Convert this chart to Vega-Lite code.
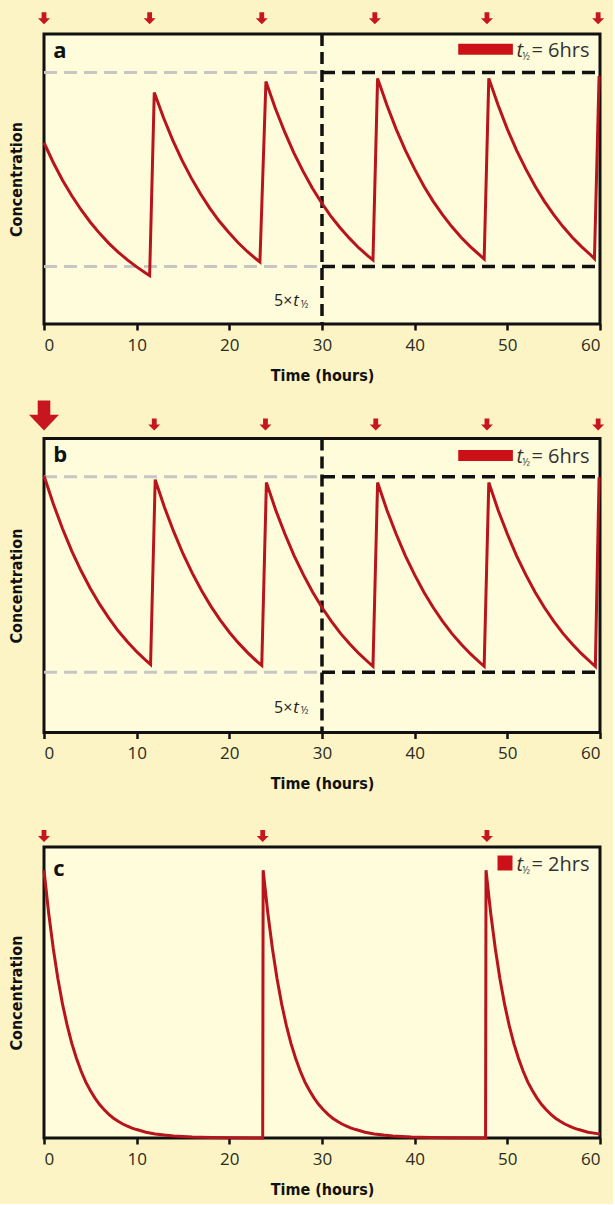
{
  "$schema": "https://vega.github.io/schema/vega-lite/v6.json",
  "background": "#fcf4c4",
  "padding": {"top": 10, "left": 6, "right": 5, "bottom": 5},
  "datasets": {
    "curves": [
      {"panel":"a","t":0,"c":62.5},{"panel":"a","t":1,"c":55.7},{"panel":"a","t":2,"c":49.6},{"panel":"a","t":3,"c":44.2},{"panel":"a","t":4,"c":39.4},{"panel":"a","t":5,"c":35.1},{"panel":"a","t":6,"c":31.25},{"panel":"a","t":7,"c":27.8},{"panel":"a","t":8,"c":24.8},{"panel":"a","t":9,"c":22.1},{"panel":"a","t":10,"c":19.7},{"panel":"a","t":11,"c":17.5},{"panel":"a","t":11.4,"c":16.7},
      {"panel":"a","t":11.9,"c":79.8},{"panel":"a","t":12.9,"c":71.1},{"panel":"a","t":13.9,"c":63.3},{"panel":"a","t":14.9,"c":56.4},{"panel":"a","t":15.9,"c":50.3},{"panel":"a","t":16.9,"c":44.8},{"panel":"a","t":17.9,"c":39.9},{"panel":"a","t":18.9,"c":35.5},{"panel":"a","t":19.9,"c":31.7},{"panel":"a","t":20.9,"c":28.2},{"panel":"a","t":21.9,"c":25.1},{"panel":"a","t":22.9,"c":22.4},{"panel":"a","t":23.3,"c":21.4},
      {"panel":"a","t":23.95,"c":83.6},{"panel":"a","t":24.95,"c":74.5},{"panel":"a","t":25.95,"c":66.4},{"panel":"a","t":26.95,"c":59.1},{"panel":"a","t":27.95,"c":52.7},{"panel":"a","t":28.95,"c":46.9},{"panel":"a","t":29.95,"c":41.8},{"panel":"a","t":30.95,"c":37.2},{"panel":"a","t":31.95,"c":33.2},{"panel":"a","t":32.95,"c":29.6},{"panel":"a","t":33.95,"c":26.3},{"panel":"a","t":34.95,"c":23.5},{"panel":"a","t":35.5,"c":22.1},
      {"panel":"a","t":36,"c":84.7},{"panel":"a","t":37,"c":75.5},{"panel":"a","t":38,"c":67.2},{"panel":"a","t":39,"c":59.9},{"panel":"a","t":40,"c":53.4},{"panel":"a","t":41,"c":47.5},{"panel":"a","t":42,"c":42.3},{"panel":"a","t":43,"c":37.7},{"panel":"a","t":44,"c":33.6},{"panel":"a","t":45,"c":29.9},{"panel":"a","t":46,"c":26.7},{"panel":"a","t":47,"c":23.8},{"panel":"a","t":47.5,"c":22.4},
      {"panel":"a","t":48,"c":84.7},{"panel":"a","t":49,"c":75.5},{"panel":"a","t":50,"c":67.2},{"panel":"a","t":51,"c":59.9},{"panel":"a","t":52,"c":53.4},{"panel":"a","t":53,"c":47.5},{"panel":"a","t":54,"c":42.3},{"panel":"a","t":55,"c":37.7},{"panel":"a","t":56,"c":33.6},{"panel":"a","t":57,"c":29.9},{"panel":"a","t":58,"c":26.7},{"panel":"a","t":59,"c":23.8},{"panel":"a","t":59.4,"c":22.5},
      {"panel":"a","t":59.9,"c":85.5},
      {"panel":"b","t":0,"c":87.3},{"panel":"b","t":1,"c":77.8},{"panel":"b","t":2,"c":69.3},{"panel":"b","t":3,"c":61.7},{"panel":"b","t":4,"c":55.0},{"panel":"b","t":5,"c":49.0},{"panel":"b","t":6,"c":43.65},{"panel":"b","t":7,"c":38.9},{"panel":"b","t":8,"c":34.6},{"panel":"b","t":9,"c":30.9},{"panel":"b","t":10,"c":27.5},{"panel":"b","t":11,"c":24.5},{"panel":"b","t":11.5,"c":23.1},
      {"panel":"b","t":12,"c":86.0},{"panel":"b","t":13,"c":76.6},{"panel":"b","t":14,"c":68.3},{"panel":"b","t":15,"c":60.8},{"panel":"b","t":16,"c":54.2},{"panel":"b","t":17,"c":48.3},{"panel":"b","t":18,"c":43.0},{"panel":"b","t":19,"c":38.3},{"panel":"b","t":20,"c":34.1},{"panel":"b","t":21,"c":30.4},{"panel":"b","t":22,"c":27.1},{"panel":"b","t":23,"c":24.1},{"panel":"b","t":23.5,"c":22.8},
      {"panel":"b","t":24,"c":85.0},{"panel":"b","t":25,"c":75.7},{"panel":"b","t":26,"c":67.5},{"panel":"b","t":27,"c":60.1},{"panel":"b","t":28,"c":53.6},{"panel":"b","t":29,"c":47.7},{"panel":"b","t":30,"c":42.5},{"panel":"b","t":31,"c":37.9},{"panel":"b","t":32,"c":33.7},{"panel":"b","t":33,"c":30.1},{"panel":"b","t":34,"c":26.8},{"panel":"b","t":35,"c":23.9},{"panel":"b","t":35.5,"c":22.5},
      {"panel":"b","t":36,"c":85.0},{"panel":"b","t":37,"c":75.7},{"panel":"b","t":38,"c":67.5},{"panel":"b","t":39,"c":60.1},{"panel":"b","t":40,"c":53.6},{"panel":"b","t":41,"c":47.7},{"panel":"b","t":42,"c":42.5},{"panel":"b","t":43,"c":37.9},{"panel":"b","t":44,"c":33.7},{"panel":"b","t":45,"c":30.1},{"panel":"b","t":46,"c":26.8},{"panel":"b","t":47,"c":23.9},{"panel":"b","t":47.5,"c":22.5},
      {"panel":"b","t":48,"c":85.0},{"panel":"b","t":49,"c":75.7},{"panel":"b","t":50,"c":67.5},{"panel":"b","t":51,"c":60.1},{"panel":"b","t":52,"c":53.6},{"panel":"b","t":53,"c":47.7},{"panel":"b","t":54,"c":42.5},{"panel":"b","t":55,"c":37.9},{"panel":"b","t":56,"c":33.7},{"panel":"b","t":57,"c":30.1},{"panel":"b","t":58,"c":26.8},{"panel":"b","t":59,"c":23.9},{"panel":"b","t":59.5,"c":22.5},
      {"panel":"b","t":59.9,"c":86.8},
      {"panel":"c","t":0,"c":92},{"panel":"c","t":0.5,"c":77.4},{"panel":"c","t":1,"c":65.1},{"panel":"c","t":1.5,"c":54.7},{"panel":"c","t":2,"c":46},{"panel":"c","t":2.5,"c":38.7},{"panel":"c","t":3,"c":32.5},{"panel":"c","t":3.5,"c":27.4},{"panel":"c","t":4,"c":23},{"panel":"c","t":4.5,"c":19.3},{"panel":"c","t":5,"c":16.3},{"panel":"c","t":5.5,"c":13.7},{"panel":"c","t":6,"c":11.5},{"panel":"c","t":6.5,"c":9.7},{"panel":"c","t":7,"c":8.1},{"panel":"c","t":7.5,"c":6.8},{"panel":"c","t":8,"c":5.75},{"panel":"c","t":8.5,"c":4.8},{"panel":"c","t":9,"c":4.1},{"panel":"c","t":9.5,"c":3.4},{"panel":"c","t":10,"c":2.9},{"panel":"c","t":11,"c":2.0},{"panel":"c","t":12,"c":1.4},{"panel":"c","t":13,"c":1.0},{"panel":"c","t":14,"c":0.7},{"panel":"c","t":16,"c":0.36},{"panel":"c","t":18,"c":0.18},{"panel":"c","t":20,"c":0.09},{"panel":"c","t":23.6,"c":0.02},
      {"panel":"c","t":23.65,"c":92},{"panel":"c","t":24.15,"c":77.4},{"panel":"c","t":24.65,"c":65.1},{"panel":"c","t":25.15,"c":54.7},{"panel":"c","t":25.65,"c":46},{"panel":"c","t":26.15,"c":38.7},{"panel":"c","t":26.65,"c":32.5},{"panel":"c","t":27.15,"c":27.4},{"panel":"c","t":27.65,"c":23},{"panel":"c","t":28.15,"c":19.3},{"panel":"c","t":28.65,"c":16.3},{"panel":"c","t":29.15,"c":13.7},{"panel":"c","t":29.65,"c":11.5},{"panel":"c","t":30.15,"c":9.7},{"panel":"c","t":30.65,"c":8.1},{"panel":"c","t":31.15,"c":6.8},{"panel":"c","t":31.65,"c":5.75},{"panel":"c","t":32.15,"c":4.8},{"panel":"c","t":32.65,"c":4.1},{"panel":"c","t":33.15,"c":3.4},{"panel":"c","t":33.65,"c":2.9},{"panel":"c","t":34.65,"c":2.0},{"panel":"c","t":35.65,"c":1.4},{"panel":"c","t":36.65,"c":1.0},{"panel":"c","t":37.65,"c":0.7},{"panel":"c","t":39.65,"c":0.36},{"panel":"c","t":41.65,"c":0.18},{"panel":"c","t":43.65,"c":0.09},{"panel":"c","t":47.65,"c":0.02},
      {"panel":"c","t":47.7,"c":92},{"panel":"c","t":48.2,"c":77.4},{"panel":"c","t":48.7,"c":65.1},{"panel":"c","t":49.2,"c":54.7},{"panel":"c","t":49.7,"c":46},{"panel":"c","t":50.2,"c":38.7},{"panel":"c","t":50.7,"c":32.5},{"panel":"c","t":51.2,"c":27.4},{"panel":"c","t":51.7,"c":23},{"panel":"c","t":52.2,"c":19.3},{"panel":"c","t":52.7,"c":16.3},{"panel":"c","t":53.2,"c":13.7},{"panel":"c","t":53.7,"c":11.5},{"panel":"c","t":54.2,"c":9.7},{"panel":"c","t":54.7,"c":8.1},{"panel":"c","t":55.2,"c":6.8},{"panel":"c","t":55.7,"c":5.75},{"panel":"c","t":56.2,"c":4.8},{"panel":"c","t":56.7,"c":4.1},{"panel":"c","t":57.2,"c":3.4},{"panel":"c","t":57.7,"c":2.9},{"panel":"c","t":58.7,"c":2.0},{"panel":"c","t":59.7,"c":1.5},{"panel":"c","t":60,"c":1.3}
    ],
    "doses": [
      {"panel":"a","t":0,"dose":"maintenance"},{"panel":"a","t":11.4,"dose":"maintenance"},{"panel":"a","t":23.5,"dose":"maintenance"},{"panel":"a","t":35.7,"dose":"maintenance"},{"panel":"a","t":47.8,"dose":"maintenance"},{"panel":"a","t":59.8,"dose":"maintenance"},
      {"panel":"b","t":0,"dose":"loading"},{"panel":"b","t":11.9,"dose":"maintenance"},{"panel":"b","t":23.9,"dose":"maintenance"},{"panel":"b","t":35.8,"dose":"maintenance"},{"panel":"b","t":47.8,"dose":"maintenance"},{"panel":"b","t":59.8,"dose":"maintenance"},
      {"panel":"c","t":0,"dose":"maintenance"},{"panel":"c","t":23.6,"dose":"maintenance"},{"panel":"c","t":47.8,"dose":"maintenance"}
    ],
    "levels": [
      {"panel":"a","phase":"before","from":0,"to":30,"level":86.7},{"panel":"a","phase":"before","from":0,"to":30,"level":19.8},
      {"panel":"a","phase":"after","from":30,"to":60,"level":86.7},{"panel":"a","phase":"after","from":30,"to":60,"level":19.8},
      {"panel":"b","phase":"before","from":0,"to":30,"level":87.0},{"panel":"b","phase":"before","from":0,"to":30,"level":20.5},
      {"panel":"b","phase":"after","from":30,"to":60,"level":87.0},{"panel":"b","phase":"after","from":30,"to":60,"level":20.5}
    ]
  },
  "bounds": "flush",
  "spacing": 114.5,
  "vconcat": [
    {
      "width": 556, "height": 290,
      "data": {"values": [{}]},
      "layer": [
        {"data":{"name":"levels"},"transform":[{"filter":"datum.panel==='a' && datum.phase==='before'"}],
         "mark":{"type":"rule","color":"#c6c6c2","strokeWidth":3,"strokeDash":[13,7]},
         "encoding":{"x":{"field":"from","type":"quantitative","scale":{"domain":[0,60],"nice":false},"title":"Time (hours)"},"x2":{"field":"to"},"y":{"field":"level","type":"quantitative","scale":{"domain":[0,100],"nice":false},"title":"Concentration"}}},
        {"data":{"name":"levels"},"transform":[{"filter":"datum.panel==='a' && datum.phase==='after'"}],
         "mark":{"type":"rule","color":"#111","strokeWidth":3.5,"strokeDash":[13,7]},
         "encoding":{"x":{"field":"from","type":"quantitative","title":"Time (hours)"},"x2":{"field":"to"},"y":{"field":"level","type":"quantitative","title":"Concentration"}}},
        {"mark":{"type":"rule","color":"#111","strokeWidth":3.5,"strokeDash":[12,6]},
         "encoding":{"x":{"datum":30,"type":"quantitative","title":"Time (hours)"}}},
        {"data":{"name":"curves"},"transform":[{"filter":"datum.panel==='a'"}],
         "mark":{"type":"line","color":"#b8141c","strokeWidth":3},
         "encoding":{"x":{"field":"t","type":"quantitative","title":"Time (hours)"},"y":{"field":"c","type":"quantitative","title":"Concentration"}}},
        {"data":{"name":"doses"},"transform":[{"filter":"datum.panel==='a'"}],
         "mark":{"type":"point","filled":true,"color":"#c8161e","opacity":1,"size":144,"shape":"M-0.4,-1H0.4V0H1L0,1L-1,0H-0.4Z"},
         "encoding":{"x":{"field":"t","type":"quantitative","title":"Time (hours)"},"y":{"datum":105.4,"type":"quantitative","title":"Concentration"}}},
        {"mark":{"type":"text","text":"a","font":"Open Sans","fontSize":22,"fontWeight":"bold","align":"left","baseline":"middle","color":"#111"},
         "encoding":{"x":{"datum":1,"type":"quantitative"},"y":{"datum":94,"type":"quantitative"}}},
        {"mark":{"type":"text","text":"5×","font":"Open Sans","fontSize":16,"align":"right","baseline":"middle","color":"#222"},
         "encoding":{"x":{"datum":26.8,"type":"quantitative"},"y":{"datum":7.9,"type":"quantitative"}}},
        {"mark":{"type":"text","text":"t","font":"Open Sans","fontSize":17,"fontStyle":"italic","align":"left","baseline":"middle","color":"#222"},
         "encoding":{"x":{"datum":26.9,"type":"quantitative"},"y":{"datum":7.9,"type":"quantitative"}}},
        {"mark":{"type":"text","text":"½","font":"Open Sans","fontSize":10,"align":"left","baseline":"middle","color":"#222"},
         "encoding":{"x":{"datum":27.7,"type":"quantitative"},"y":{"datum":6.6,"type":"quantitative"}}},
        {"mark":{"type":"rule","color":"#cc1018","strokeWidth":11},
         "encoding":{"x":{"datum":44.7,"type":"quantitative"},"x2":{"datum":50.6},"y":{"datum":94.7,"type":"quantitative"}}},
        {"mark":{"type":"text","text":"t","font":"Open Sans","fontSize":20,"fontStyle":"italic","align":"left","baseline":"middle","color":"#333"},
         "encoding":{"x":{"datum":51.0,"type":"quantitative"},"y":{"datum":94.1,"type":"quantitative"}}},
        {"mark":{"type":"text","text":"½","font":"Open Sans","fontSize":10,"align":"left","baseline":"middle","color":"#333"},
         "encoding":{"x":{"datum":51.6,"type":"quantitative"},"y":{"datum":92.1,"type":"quantitative"}}},
        {"mark":{"type":"text","text":"= 6hrs","font":"Open Sans","fontSize":20,"align":"left","baseline":"middle","color":"#333"},
         "encoding":{"x":{"datum":52.6,"type":"quantitative"},"y":{"datum":94.1,"type":"quantitative"}}}
      ]
    },
    {
      "width": 556, "height": 294,
      "data": {"values": [{}]},
      "layer": [
        {"data":{"name":"levels"},"transform":[{"filter":"datum.panel==='b' && datum.phase==='before'"}],
         "mark":{"type":"rule","color":"#c6c6c2","strokeWidth":3,"strokeDash":[13,7]},
         "encoding":{"x":{"field":"from","type":"quantitative","scale":{"domain":[0,60],"nice":false},"title":"Time (hours)"},"x2":{"field":"to"},"y":{"field":"level","type":"quantitative","scale":{"domain":[0,100],"nice":false},"title":"Concentration"}}},
        {"data":{"name":"levels"},"transform":[{"filter":"datum.panel==='b' && datum.phase==='after'"}],
         "mark":{"type":"rule","color":"#111","strokeWidth":3.5,"strokeDash":[13,7]},
         "encoding":{"x":{"field":"from","type":"quantitative","title":"Time (hours)"},"x2":{"field":"to"},"y":{"field":"level","type":"quantitative","title":"Concentration"}}},
        {"mark":{"type":"rule","color":"#111","strokeWidth":3.5,"strokeDash":[12,6]},
         "encoding":{"x":{"datum":30,"type":"quantitative","title":"Time (hours)"}}},
        {"data":{"name":"curves"},"transform":[{"filter":"datum.panel==='b'"}],
         "mark":{"type":"line","color":"#b8141c","strokeWidth":3},
         "encoding":{"x":{"field":"t","type":"quantitative","title":"Time (hours)"},"y":{"field":"c","type":"quantitative","title":"Concentration"}}},
        {"data":{"name":"doses"},"transform":[{"filter":"datum.panel==='b' && datum.dose==='maintenance'"}],
         "mark":{"type":"point","filled":true,"color":"#c8161e","opacity":1,"size":144,"shape":"M-0.4,-1H0.4V0H1L0,1L-1,0H-0.4Z"},
         "encoding":{"x":{"field":"t","type":"quantitative","title":"Time (hours)"},"y":{"datum":104.8,"type":"quantitative","title":"Concentration"}}},
        {"data":{"name":"doses"},"transform":[{"filter":"datum.panel==='b' && datum.dose==='loading'"}],
         "mark":{"type":"point","filled":true,"color":"#c8161e","opacity":1,"size":900,"shape":"M-0.42,-1H0.42V-0.05H1L0,1L-1,-0.05H-0.42Z"},
         "encoding":{"x":{"field":"t","type":"quantitative","title":"Time (hours)"},"y":{"datum":107.8,"type":"quantitative","title":"Concentration"}}},
        {"mark":{"type":"text","text":"b","font":"Open Sans","fontSize":22,"fontWeight":"bold","align":"left","baseline":"middle","color":"#111"},
         "encoding":{"x":{"datum":1,"type":"quantitative"},"y":{"datum":94.3,"type":"quantitative"}}},
        {"mark":{"type":"text","text":"5×","font":"Open Sans","fontSize":16,"align":"right","baseline":"middle","color":"#222"},
         "encoding":{"x":{"datum":26.8,"type":"quantitative"},"y":{"datum":8.5,"type":"quantitative"}}},
        {"mark":{"type":"text","text":"t","font":"Open Sans","fontSize":17,"fontStyle":"italic","align":"left","baseline":"middle","color":"#222"},
         "encoding":{"x":{"datum":26.9,"type":"quantitative"},"y":{"datum":8.5,"type":"quantitative"}}},
        {"mark":{"type":"text","text":"½","font":"Open Sans","fontSize":10,"align":"left","baseline":"middle","color":"#222"},
         "encoding":{"x":{"datum":27.7,"type":"quantitative"},"y":{"datum":7.2,"type":"quantitative"}}},
        {"mark":{"type":"rule","color":"#cc1018","strokeWidth":11},
         "encoding":{"x":{"datum":44.7,"type":"quantitative"},"x2":{"datum":50.6},"y":{"datum":94.2,"type":"quantitative"}}},
        {"mark":{"type":"text","text":"t","font":"Open Sans","fontSize":20,"fontStyle":"italic","align":"left","baseline":"middle","color":"#333"},
         "encoding":{"x":{"datum":51.0,"type":"quantitative"},"y":{"datum":93.7,"type":"quantitative"}}},
        {"mark":{"type":"text","text":"½","font":"Open Sans","fontSize":10,"align":"left","baseline":"middle","color":"#333"},
         "encoding":{"x":{"datum":51.6,"type":"quantitative"},"y":{"datum":91.7,"type":"quantitative"}}},
        {"mark":{"type":"text","text":"= 6hrs","font":"Open Sans","fontSize":20,"align":"left","baseline":"middle","color":"#333"},
         "encoding":{"x":{"datum":52.6,"type":"quantitative"},"y":{"datum":93.7,"type":"quantitative"}}}
      ]
    },
    {
      "width": 556, "height": 291,
      "data": {"values": [{}]},
      "layer": [
        {"data":{"name":"curves"},"transform":[{"filter":"datum.panel==='c'"}],
         "mark":{"type":"line","color":"#b8141c","strokeWidth":3},
         "encoding":{"x":{"field":"t","type":"quantitative","scale":{"domain":[0,60],"nice":false},"title":"Time (hours)"},"y":{"field":"c","type":"quantitative","scale":{"domain":[0,100],"nice":false},"title":"Concentration"}}},
        {"data":{"name":"doses"},"transform":[{"filter":"datum.panel==='c'"}],
         "mark":{"type":"point","filled":true,"color":"#c8161e","opacity":1,"size":144,"shape":"M-0.4,-1H0.4V0H1L0,1L-1,0H-0.4Z"},
         "encoding":{"x":{"field":"t","type":"quantitative","title":"Time (hours)"},"y":{"datum":103.8,"type":"quantitative","title":"Concentration"}}},
        {"mark":{"type":"text","text":"c","font":"Open Sans","fontSize":22,"fontWeight":"bold","align":"left","baseline":"middle","color":"#111"},
         "encoding":{"x":{"datum":1,"type":"quantitative"},"y":{"datum":92.5,"type":"quantitative"}}},
        {"mark":{"type":"point","shape":"square","filled":true,"color":"#cc1018","opacity":1,"size":225},
         "encoding":{"x":{"datum":49.75,"type":"quantitative"},"y":{"datum":94.5,"type":"quantitative"}}},
        {"mark":{"type":"text","text":"t","font":"Open Sans","fontSize":20,"fontStyle":"italic","align":"left","baseline":"middle","color":"#333"},
         "encoding":{"x":{"datum":51.0,"type":"quantitative"},"y":{"datum":93.9,"type":"quantitative"}}},
        {"mark":{"type":"text","text":"½","font":"Open Sans","fontSize":10,"align":"left","baseline":"middle","color":"#333"},
         "encoding":{"x":{"datum":51.6,"type":"quantitative"},"y":{"datum":91.8,"type":"quantitative"}}},
        {"mark":{"type":"text","text":"= 2hrs","font":"Open Sans","fontSize":20,"align":"left","baseline":"middle","color":"#333"},
         "encoding":{"x":{"datum":52.6,"type":"quantitative"},"y":{"datum":93.9,"type":"quantitative"}}}
      ]
    }
  ],
  "config": {
    "view": {"fill": "#fffcdc", "stroke": "#111", "strokeWidth": 3},
    "axis": {"grid": false, "domain": false},
    "axisX": {"tickCount": 6, "ticks": true, "tickColor": "#111", "tickWidth": 2.5, "tickSize": 6, "labelFont": "Open Sans", "labelFontSize": 17, "labelColor": "#2b2b20", "labelPadding": 7, "titleFont": "Liberation Sans Narrow, DejaVu Sans Condensed, sans-serif", "titleFontSize": 16, "titleFontWeight": "bold", "titleColor": "#111", "titlePadding": 14},
    "axisY": {"ticks": false, "labels": false, "titleFont": "Liberation Sans Narrow, DejaVu Sans Condensed, sans-serif", "titleFontSize": 16, "titleFontWeight": "bold", "titleColor": "#111", "titlePadding": 20}
  }
}
